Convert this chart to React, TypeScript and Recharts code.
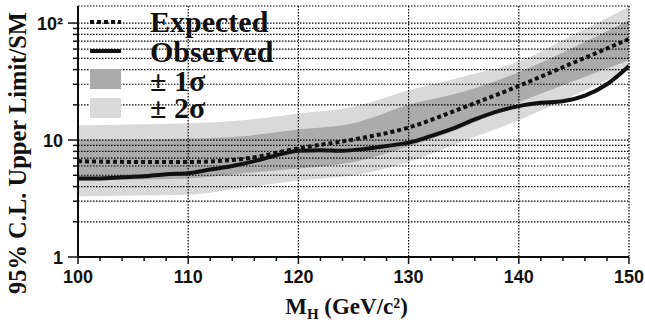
import React from 'react';
import { ComposedChart, Area, Line, XAxis, YAxis, CartesianGrid } from 'recharts';

// expected limit and bands, sampled every 5 GeV
const bandMass = [100, 105, 110, 115, 120, 125, 130, 135, 140, 145, 150];
const expected = [6.6, 6.5, 6.5, 6.9, 8.5, 10.1, 12.8, 19, 29, 46, 73];
const sigma1Lo = [4.5, 4.6, 4.7, 5.2, 5.7, 6.5, 8.8, 13, 21, 32, 48];
const sigma1Hi = [10.1, 10.1, 10.3, 10.8, 12.3, 13.9, 20, 26, 38, 62, 106];
const sigma2Lo = [3.3, 3.35, 3.4, 3.9, 4.5, 5.0, 6.5, 9.8, 14.8, 24, 40];
const sigma2Hi = [13.4, 13.6, 13.9, 14.8, 16.9, 19.3, 26.7, 35, 47, 80, 138];

// observed limit, every 2 GeV
const obsMass = [100, 102, 104, 106, 108, 110, 112, 114, 116, 118, 120, 122, 124, 126, 128, 130, 132, 134, 136, 138, 140, 142, 144, 146, 148, 150];
const observed = [4.7, 4.7, 4.8, 4.9, 5.1, 5.2, 5.6, 6.0, 6.6, 7.4, 8.1, 8.2, 8.1, 8.4, 8.9, 9.5, 10.8, 12.5, 15.0, 17.5, 19.5, 20.8, 21.5, 24, 30, 43];

const xTicks = [100, 102, 104, 106, 108, 110, 112, 114, 116, 118, 120, 122, 124, 126, 128, 130, 132, 134, 136, 138, 140, 142, 144, 146, 148, 150];
const xMajor = [100, 110, 120, 130, 140, 150];
const yTicks = [1, 2, 3, 4, 5, 6, 7, 8, 9, 10, 20, 30, 40, 50, 60, 70, 80, 90, 100];

const bandData = bandMass.map((m, i) => ({
  mass: m,
  expected: expected[i],
  band1: [sigma1Lo[i], sigma1Hi[i]],
  band2: [sigma2Lo[i], sigma2Hi[i]],
}));
const obsData = obsMass.map((m, i) => ({ mass: m, observed: observed[i] }));

const W = 645;
const H = 327;
const M = { top: 6, right: 16, bottom: 70, left: 78 };
const INK = '#111';
const DARK = '#ababab';
const LIGHT = '#d9d9d9';
const sans = '"Liberation Sans", Arial, sans-serif';
const serif = '"Liberation Serif", "Times New Roman", serif';

const XTick = (props: any) => {
  const { x, y, payload } = props;
  const major = xMajor.includes(payload.value);
  return (
    <g>
      <line x1={x} x2={x} y1={y} y2={y + (major ? 7 : 4)} stroke={INK} strokeWidth={1.5} />
      {major && (
        <text x={x} y={y + 26} textAnchor="middle" fontFamily={sans} fontWeight="bold" fontSize={18} fill={INK}>
          {payload.value}
        </text>
      )}
    </g>
  );
};

const YTick = (props: any) => {
  const { x, y, payload } = props;
  const v = payload.value;
  const major = v === 1 || v === 10 || v === 100;
  return (
    <g>
      <line x1={x - (major ? 10 : 5)} x2={x} y1={y} y2={y} stroke={INK} strokeWidth={1.5} />
      {major && (
        <text x={x - 15} y={y + 6.5} textAnchor="end" fontFamily={sans} fontWeight="bold" fontSize={18} fill={INK}>
          {v === 100 ? '10²' : v}
        </text>
      )}
    </g>
  );
};

const XLabel = (props: any) => {
  const vb = props.viewBox;
  return (
    <text x={vb.x + vb.width / 2 - 7} y={314} textAnchor="middle" fontFamily={serif} fontWeight="bold" fontSize={23} fill={INK}>
      M<tspan dy={5} fontSize={15}>H</tspan>
      <tspan dy={-5}> (GeV/c²)</tspan>
    </text>
  );
};

const YLabel = () => (
  <text
    x={0}
    y={0}
    transform="translate(26,153) rotate(-90)"
    textAnchor="middle"
    fontFamily={serif}
    fontWeight="bold"
    fontSize={24.5}
    fill={INK}
  >
    95% C.L. Upper Limit/SM
  </text>
);

function ChartLegend() {
  const text = { fontFamily: serif, fontWeight: 'bold' as const, fontSize: 30, fill: INK };
  return (
    <svg width={W} height={130} style={{ position: 'absolute', left: 0, top: 0, pointerEvents: 'none' }}>
      <line x1={90} x2={121} y1={22} y2={22} stroke={INK} strokeWidth={4} strokeDasharray="4 3" />
      <text x={150} y={32} {...text}>Expected</text>
      <line x1={90} x2={121} y1={51} y2={51} stroke={INK} strokeWidth={4} />
      <text x={150} y={62} {...text}>Observed</text>
      <rect x={90} y={69} width={31} height={20} fill={DARK} />
      <text x={150} y={91} {...text}>± 1σ</text>
      <rect x={90} y={98} width={31} height={20} fill={LIGHT} />
      <text x={150} y={118} {...text}>± 2σ</text>
    </svg>
  );
}

const layer: React.CSSProperties = { position: 'absolute', left: 0, top: 0 };

export default function App() {
  return (
    <div style={{ position: 'absolute', left: 0, top: 0, width: W, height: H, background: '#fff' }}>
      {/* back layer: bands and axes */}
      <div style={layer}>
        <ComposedChart width={W} height={H} margin={{ top: M.top, right: M.right, bottom: 0, left: 0 }}>
          <XAxis
            dataKey="mass"
            type="number"
            domain={[100, 150]}
            ticks={xTicks}
            interval={0}
            height={M.bottom}
            tickSize={0}
            tickMargin={0}
            tick={<XTick />}
            axisLine={{ stroke: INK, strokeWidth: 2 }}
            allowDuplicatedCategory={false}
            label={<XLabel />}
          />
          <XAxis
            xAxisId="top"
            orientation="top"
            type="number"
            domain={[100, 150]}
            height={0}
            tick={false}
            tickLine={false}
            axisLine={{ stroke: INK, strokeWidth: 1.5 }}
          />
          <YAxis
            type="number"
            scale="log"
            domain={[1, 140]}
            allowDataOverflow
            ticks={yTicks}
            interval={0}
            width={M.left}
            tickSize={0}
            tickMargin={0}
            tick={<YTick />}
            axisLine={{ stroke: INK, strokeWidth: 2 }}
            label={<YLabel />}
          />
          <Area data={bandData} dataKey="band2" type="monotone" fill={LIGHT} fillOpacity={1} stroke="none" isAnimationActive={false} />
          <Area data={bandData} dataKey="band1" type="monotone" fill={DARK} fillOpacity={1} stroke="none" isAnimationActive={false} />
        </ComposedChart>
      </div>
      {/* front layer: dotted grid and limit curves */}
      <div style={layer}>
        <ComposedChart width={W} height={H} margin={M}>
          <XAxis hide dataKey="mass" type="number" domain={[100, 150]} ticks={xMajor} interval={0} allowDuplicatedCategory={false} />
          <YAxis hide type="number" scale="log" domain={[1, 140]} allowDataOverflow ticks={yTicks} interval={0} />
          <CartesianGrid stroke="#000" strokeDasharray="1.5 1.5" strokeWidth={1.2} />
          <Line
            data={bandData}
            dataKey="expected"
            type="monotone"
            stroke={INK}
            strokeWidth={4}
            strokeDasharray="4 3"
            dot={false}
            isAnimationActive={false}
          />
          <Line
            data={obsData}
            dataKey="observed"
            type="monotone"
            stroke={INK}
            strokeWidth={4}
            dot={false}
            isAnimationActive={false}
          />
        </ComposedChart>
      </div>
      <ChartLegend />
    </div>
  );
}
